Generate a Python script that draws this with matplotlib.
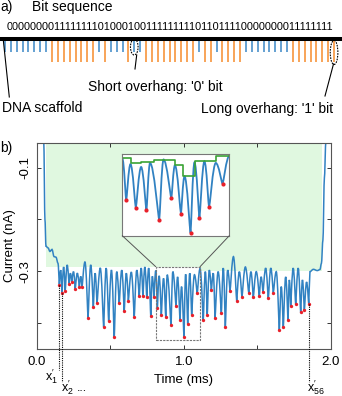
import numpy as np
import matplotlib
matplotlib.use('Agg')
import matplotlib.pyplot as plt
from matplotlib.patches import Ellipse, Rectangle, ConnectionPatch, PathPatch
from matplotlib.lines import Line2D
from matplotlib.path import Path

plt.rcParams['font.family'] = ['Liberation Sans', 'DejaVu Sans']

# bit sequence written on the DNA carrier
bits = "000000001111111101000100111111111011011110000000011111111"

# current trace (time in ms, current in nA)
# entry of the molecule (before first dip)
start_t = [0.040, 0.048, 0.056, 0.063, 0.077, 0.090, 0.104, 0.118, 0.131, 0.145]
start_y = [0.0, -0.05, -0.20, -0.252, -0.255, -0.262, -0.258, -0.272, -0.273, -0.285]

# the 56 dips (red dots)
dip_t = [0.154, 0.172, 0.194, 0.220, 0.238, 0.262, 0.290, 0.308, 0.349, 0.385,
         0.410, 0.455, 0.489, 0.527, 0.561, 0.595, 0.623, 0.663, 0.697, 0.722,
         0.748, 0.775, 0.797, 0.820, 0.847, 0.877, 0.913, 0.947, 0.974, 1.001,
         1.026, 1.053, 1.091, 1.132, 1.159, 1.187, 1.212, 1.255, 1.282, 1.314,
         1.359, 1.395, 1.441, 1.472, 1.513, 1.538, 1.574, 1.608, 1.649, 1.676,
         1.708, 1.726, 1.760, 1.794, 1.819, 1.849]
dip_y = [-0.326, -0.343, -0.338, -0.324, -0.321, -0.334, -0.330, -0.331, -0.390, -0.369,
         -0.362, -0.408, -0.397, -0.428, -0.362, -0.377, -0.357, -0.388, -0.348, -0.348,
         -0.351, -0.387, -0.350, -0.372, -0.385, -0.389, -0.405, -0.368, -0.395, -0.428,
         -0.402, -0.384, -0.343, -0.395, -0.384, -0.337, -0.390, -0.382, -0.408, -0.338,
         -0.357, -0.350, -0.342, -0.351, -0.348, -0.341, -0.353, -0.342, -0.414, -0.409,
         -0.395, -0.367, -0.364, -0.380, -0.376, -0.364]

# peaks between the dips
peak_t = [0.163, 0.183, 0.207, 0.229, 0.250, 0.276, 0.299, 0.328, 0.367, 0.397,
          0.432, 0.472, 0.508, 0.544, 0.578, 0.609, 0.643, 0.680, 0.710, 0.735,
          0.761, 0.786, 0.809, 0.832, 0.862, 0.887, 0.925, 0.957, 0.984, 1.012,
          1.040, 1.072, 1.110, 1.146, 1.173, 1.200, 1.233, 1.268, 1.298, 1.337,
          1.377, 1.418, 1.456, 1.492, 1.525, 1.556, 1.591, 1.628, 1.662, 1.692,
          1.717, 1.743, 1.777, 1.806, 1.834]
peak_y = [-0.298, -0.292, -0.288, -0.304, -0.301, -0.304, -0.310, -0.282, -0.288, -0.304,
          -0.294, -0.294, -0.298, -0.301, -0.298, -0.304, -0.302, -0.298, -0.294, -0.292,
          -0.294, -0.310, -0.299, -0.309, -0.314, -0.307, -0.301, -0.311, -0.330, -0.306,
          -0.304, -0.307, -0.295, -0.301, -0.298, -0.304, -0.301, -0.294, -0.298, -0.272,
          -0.301, -0.292, -0.301, -0.301, -0.311, -0.294, -0.294, -0.301, -0.330, -0.311,
          -0.317, -0.294, -0.294, -0.317, -0.321]

# exit of the molecule
end_t = [1.857, 1.880, 1.907, 1.925, 1.935, 1.945, 1.955, 1.965, 1.975]
end_y = [-0.301, -0.2965, -0.299, -0.297, -0.285, -0.24, -0.12, -0.05, 0.0]

# light green area (open level above the trace)
band_t = [0.061, 0.55, 1.11, 1.937]
band_y = [-0.2915, -0.2915, -0.300, -0.300]

# green step line in the zoom
env_t = [0.809, 0.8335, 0.8618, 0.8973, 0.9577, 0.9811, 1.013, 1.0714, 1.110]
env_y = [-0.2992, -0.3074, -0.3062, -0.3022, -0.3109, -0.3300, -0.3039, -0.2952, -0.2952]

blue = '#3a87c6'
orange = '#f68b2b'
trace_c = '#3182c2'
red = '#e8202a'
mint = '#e0f8e0'

# build trace (dips sharp, peaks round)
n_mid = len(dip_t) + len(peak_t)
mid_t = np.empty(n_mid)
mid_y = np.empty(n_mid)
mid_s = np.empty(n_mid)
mid_t[0::2] = dip_t
mid_t[1::2] = peak_t
mid_y[0::2] = dip_y
mid_y[1::2] = peak_y
mid_s[0::2] = 0.12
mid_s[1::2] = 0.42
trace_t = np.concatenate([start_t, mid_t, end_t])
trace_y = np.concatenate([start_y, mid_y, end_y])
trace_s = np.concatenate([np.full(len(start_t), 0.3), mid_s, np.full(len(end_t), 0.3)])


def trace_path(ts, ys, ss):
    verts = [(ts[0], ys[0])]
    codes = [Path.MOVETO]
    for i in range(len(ts) - 1):
        dx = ts[i + 1] - ts[i]
        verts += [(ts[i] + ss[i] * dx, ys[i]),
                  (ts[i + 1] - ss[i + 1] * dx, ys[i + 1]),
                  (ts[i + 1], ys[i + 1])]
        codes += [Path.CURVE4] * 3
    return Path(verts, codes)


W, H = 342, 396
fig = plt.figure(figsize=(3.42, 3.96), dpi=100)


def fx(px):
    return px / W


def fy(py):
    return 1 - py / H


# ---------- panel a ----------
ax_a = fig.add_axes([0, fy(120), 1, 120 / H])
ax_a.set_xlim(-0.85, 57.35)
ax_a.set_ylim(120, 0)
ax_a.axis('off')

idx = np.arange(len(bits))
vals = np.array([int(c) for c in bits])
ax_a.vlines(idx[vals == 0], 40.5, 52.3, color=blue, lw=1.1)
ax_a.vlines(idx[vals == 1], 40.5, 62.3, color=orange, lw=1.1)
ax_a.axhline(38.8, color='black', lw=2.9)

ax_a.add_patch(Ellipse((22, 47), 1.3, 16, fill=False, ls=(0, (1.5, 1)), lw=0.8, ec='black'))
ax_a.add_patch(Ellipse((56, 52.5), 1.3, 24, fill=False, ls=(0, (1.5, 1)), lw=0.8, ec='black'))

fig.text(fx(0), fy(7), 'a)', fontsize=10, va='center', ha='left')
fig.text(fx(32), fy(7), 'Bit sequence', fontsize=10, va='center', ha='left')
fig.text(fx(169.5), fy(26.5), bits, fontsize=7.8, va='center', ha='center')

fig.add_artist(Line2D([fx(136.7), fx(135)], [fy(55), fy(69)], color='black', lw=0.8))
fig.text(fx(88), fy(87), "Short overhang: '0' bit", fontsize=10, va='center', ha='left')
fig.add_artist(Line2D([fx(333.5), fx(325)], [fy(64), fy(96)], color='black', lw=0.8))
fig.text(fx(333.5), fy(108.5), "Long overhang: '1' bit", fontsize=10, va='center', ha='right')
fig.add_artist(Line2D([fx(3.3), fx(9.3)], [fy(40), fy(97)], color='black', lw=0.8))
fig.text(fx(1.5), fy(108.5), 'DNA scaffold', fontsize=10, va='center', ha='left')

# ---------- panel b ----------
ax = fig.add_axes([fx(36.7), fy(349), (331 - 36.7) / W, (349 - 142.7) / H])
ax.fill_between(band_t, band_y, 0.0, step='post', color=mint, lw=0, zorder=1)
ax.add_patch(PathPatch(trace_path(trace_t, trace_y, trace_s), fill=False,
                       ec=trace_c, lw=1.1, zorder=2))
ax.plot(dip_t, dip_y, 'o', color=red, ms=2.4, mec='none', zorder=3)
ax.set_xlim(0, 2.0)
ax.set_ylim(-0.4507, -0.0516)
ax.set_xticks([0, 0.5, 1.0, 1.5, 2.0])
ax.set_xticklabels(['0.0', '', '1.0', '', '2.0'])
ax.set_yticks([-0.4, -0.3, -0.2, -0.1])
ax.set_yticklabels(['', '-0.3', '', '-0.1'])
ax.tick_params(direction='in', top=True, right=True, length=3, width=0.7,
               labelsize=9.5, colors='#333333', labelcolor='black')
ax.tick_params(axis='x', pad=5)
for lab in ax.get_yticklabels():
    lab.set_rotation(90)
    lab.set_va('center')
for sp in ax.spines.values():
    sp.set_color('#555555')
    sp.set_linewidth(0.8)
ax.set_xlabel('Time (ms)', fontsize=9.5, labelpad=4)
ax.set_ylabel('Current (nA)', fontsize=9.5, labelpad=3)

fig.text(fx(0), fy(148), 'b)', fontsize=10, va='center', ha='left')

# zoom box in the trace
box_x0, box_x1 = 0.809, 1.110
box_y0, box_y1 = -0.433, -0.2915
ax.add_patch(Rectangle((box_x0, box_y0), box_x1 - box_x0, box_y1 - box_y0, fill=False,
                       ls=(0, (2, 1)), lw=0.8, ec='#777777', zorder=4))

# x1, x2, x56 guides
for k, dy, lab, ha, dx in [(0, -0.4913, r'$\mathregular{x_1^{\prime}}$', 'right', -0.01),
                           (1, -0.5139, r'$\mathregular{x_2^{\prime}}$', 'left', -0.01),
                           (55, -0.5139, r'$\mathregular{x_{56}^{\prime}}$', 'left', -0.01)]:
    ax.plot([dip_t[k], dip_t[k]], [dip_y[k], dy], ls=(0, (1, 1)), color='black', lw=0.8,
            clip_on=False, zorder=3)
    ax.text(dip_t[k] + dx, dy - 0.012, lab, fontsize=9, ha=ha, va='center', clip_on=False)
ax.text(0.31, -0.5139 - 0.012, '...', fontsize=9, ha='center', va='center')

# inset
ax_in = fig.add_axes([fx(122.3), fy(235.7), (229.3 - 122.3) / W, (235.7 - 154) / H])
ax_in.add_patch(PathPatch(trace_path(trace_t, trace_y, trace_s), fill=False,
                          ec=trace_c, lw=1.3, zorder=2))
ax_in.plot(dip_t, dip_y, 'o', color=red, ms=3, mec='none', zorder=3)
ax_in.step(env_t, env_y, where='post', color='#3aa335', lw=1.2, zorder=2)
ax_in.set_xlim(box_x0, box_x1)
ax_in.set_ylim(box_y0, box_y1)
ax_in.set_xticks([])
ax_in.set_yticks([])
for sp in ax_in.spines.values():
    sp.set_linestyle((0, (2, 1)))
    sp.set_color('#777777')
    sp.set_linewidth(0.8)

for xa, xb in [(0, box_x0), (1, box_x1)]:
    con = ConnectionPatch(xyA=(xa, 0), coordsA=ax_in.transAxes, xyB=(xb, box_y1),
                          coordsB=ax.transData, color='#555555', lw=0.7)
    fig.add_artist(con)

fig.savefig('out.png', dpi=100)
